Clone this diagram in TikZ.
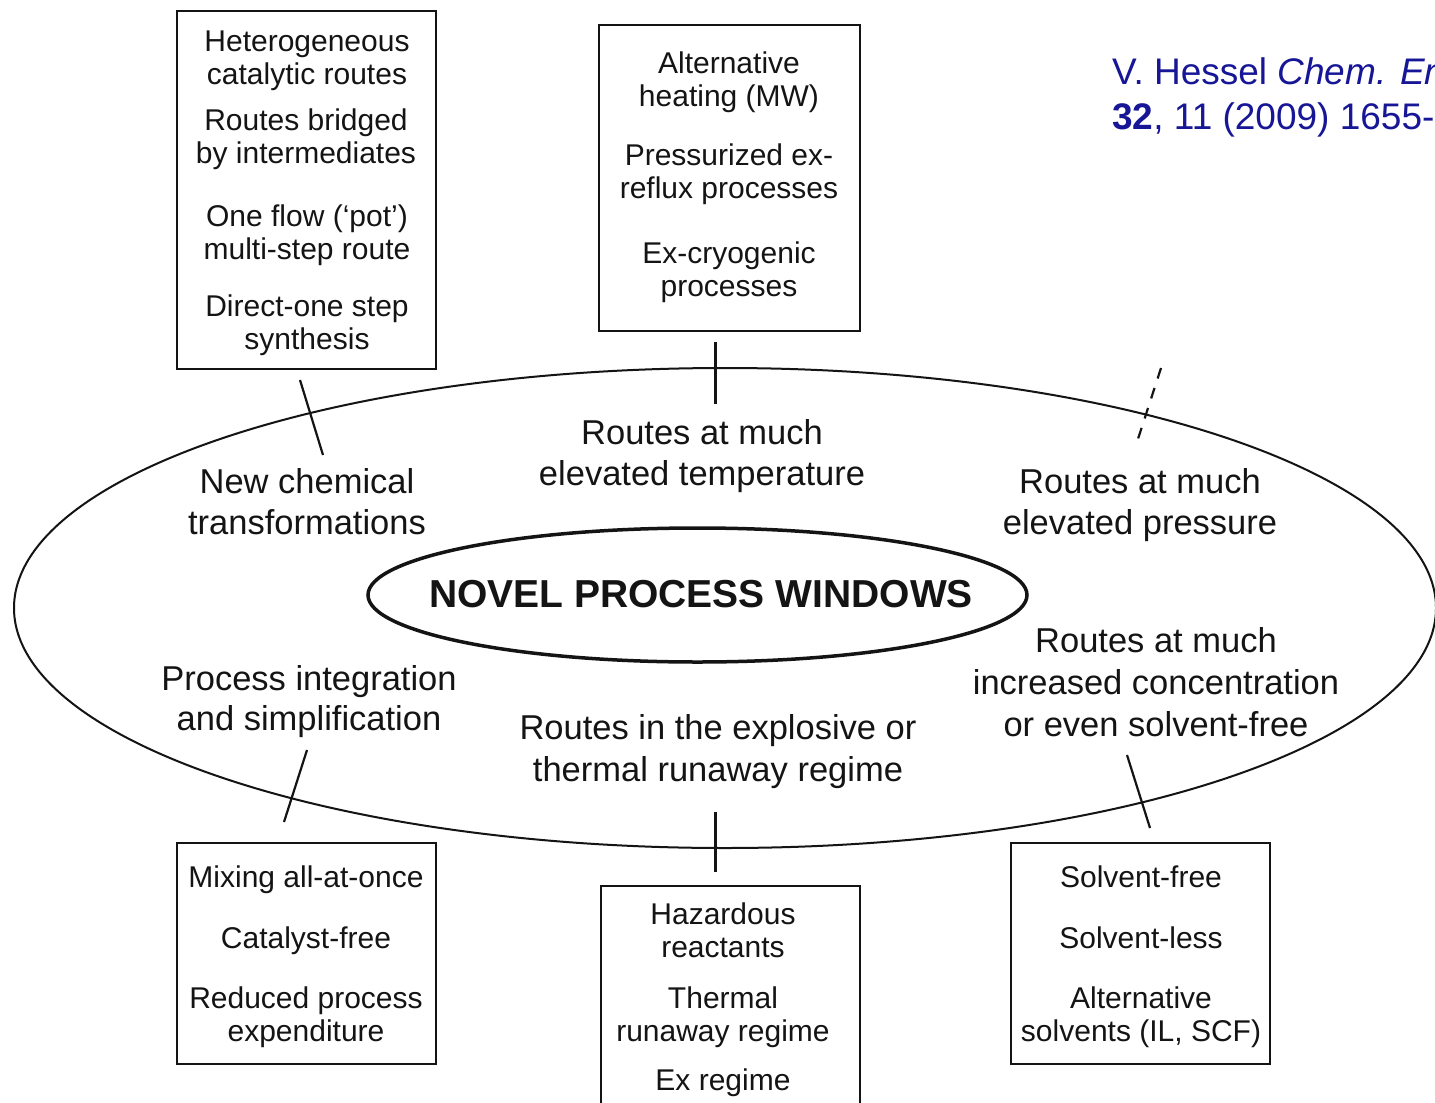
\documentclass[tikz,border=0pt]{standalone}
\usepackage{fontspec}
\setmainfont{Liberation Sans}
\usetikzlibrary{shapes.geometric}
\definecolor{citeblue}{RGB}{22,22,150}
\definecolor{ink}{RGB}{20,20,20}
\begin{document}
\begin{tikzpicture}[x=1pt,y=-1pt,
  boxs/.style={draw=ink,line width=1.6pt,rectangle,inner sep=0pt},
  boxtext/.style={anchor=base,align=center,inner sep=0pt,text=ink,font=\fontsize{30}{33}\selectfont},
  lbl/.style={anchor=base,align=center,inner sep=0pt,text=ink,font=\fontsize{34.5}{41}\selectfont},
  conn/.style={draw=ink,line width=2.2pt},
  vconn/.style={draw=ink,line width=3pt},
  cite/.style={anchor=base west,inner sep=0pt,text=citeblue,font=\fontsize{37}{44}\selectfont}]
\useasboundingbox (0,0) rectangle (1435,1103);
\clip (0,0) rectangle (1435,1103);
\fill[white] (0,0) rectangle (1435,1103);

% ellipses
\node[draw=ink,line width=2pt,ellipse,minimum width=1422,minimum height=480,inner sep=0pt] (outer) at (725,608) {};
\node[draw=ink,line width=3.5pt,ellipse,minimum width=659,minimum height=134,inner sep=0pt] (inner) at (697.5,595) {};
\node[inner sep=0pt,text=ink,font=\fontsize{39}{44}\selectfont\bfseries] (title) at (701,594) {NOVEL PROCESS WINDOWS};

% boxes
\node[boxs,minimum width=259,minimum height=358] (b1) at (306.5,190) {};
\node[boxs,minimum width=261,minimum height=306] (b2) at (729.5,178) {};
\node[boxs,minimum width=259,minimum height=221] (b3) at (306.5,953.5) {};
\node[boxs,minimum width=259,minimum height=240] (b4) at (730.5,1006) {};
\node[boxs,minimum width=259,minimum height=221] (b5) at (1140.5,953.5) {};

% box 1 text (anchor = baseline of last line)
\node[boxtext] (t11) at (307,84) {Heterogeneous\\catalytic routes};
\node[boxtext] (t12) at (306,163) {Routes bridged\\by intermediates};
\node[boxtext] (t13) at (307,259) {One flow (‘pot’)\\multi-step route};
\node[boxtext] (t14) at (307,349) {Direct-one step\\synthesis};
% box 2 text
\node[boxtext] (t21) at (729,106) {Alternative\\heating (MW)};
\node[boxtext] (t22) at (729,198) {Pressurized ex-\\reflux processes};
\node[boxtext] (t23) at (729,296) {Ex-cryogenic\\processes};
% box 3 text
\node[boxtext] (t31) at (306,887) {Mixing all-at-once};
\node[boxtext] (t32) at (306,948) {Catalyst-free};
\node[boxtext] (t33) at (306,1041) {Reduced process\\expenditure};
% box 4 text
\node[boxtext] (t41) at (723,957) {Hazardous\\reactants};
\node[boxtext] (t42) at (723,1041) {Thermal\\runaway regime};
\node[boxtext] (t43) at (723,1090) {Ex regime};
% box 5 text
\node[boxtext] (t51) at (1141,887) {Solvent-free};
\node[boxtext] (t52) at (1141,948) {Solvent-less};
\node[boxtext] (t53) at (1141,1041) {Alternative\\solvents (IL, SCF)};

% labels
\node[lbl] (l1) at (702,485) {Routes at much\\elevated temperature};
\node[lbl] (l2) at (307,534) {New chemical\\transformations};
\node[lbl] (l3) at (1140,534) {Routes at much\\elevated pressure};
\node[lbl,font=\fontsize{34.5}{42}\selectfont] (l4) at (1156,736) {Routes at much\\increased concentration\\or even solvent-free};
\node[lbl,font=\fontsize{34.5}{40}\selectfont] (l5) at (309,730) {Process integration\\and simplification};
\node[lbl,font=\fontsize{34.5}{42}\selectfont] (l6) at (718,781) {Routes in the explosive or\\thermal runaway regime};

% connectors
\coordinate (c1a) at (300,380); \coordinate (c1b) at (323,455);
\coordinate (c2a) at (715,342); \coordinate (c2b) at (715,404);
\coordinate (c3a) at (1161,368); \coordinate (c3b) at (1137,442);
\coordinate (c4a) at (307,750); \coordinate (c4b) at (284,822);
\coordinate (c5a) at (715,812); \coordinate (c5b) at (715,872);
\coordinate (c6a) at (1127,755); \coordinate (c6b) at (1150,828);
\draw[conn] (c1a) -- (c1b);
\draw[vconn] (c2a) -- (c2b);
\draw[conn,dash pattern=on 11pt off 10pt] (c3a) -- (c3b);
\draw[conn] (c4a) -- (c4b);
\draw[vconn] (c5a) -- (c5b);
\draw[conn] (c6a) -- (c6b);

% citation
\node[cite] (cit1) at (1112,84) {V. Hessel \textit{Chem. Eng. Technol.}};
\node[cite] (cit2) at (1112,129) {\textbf{32}, 11 (2009) 1655-1681};
\end{tikzpicture}
\end{document}
